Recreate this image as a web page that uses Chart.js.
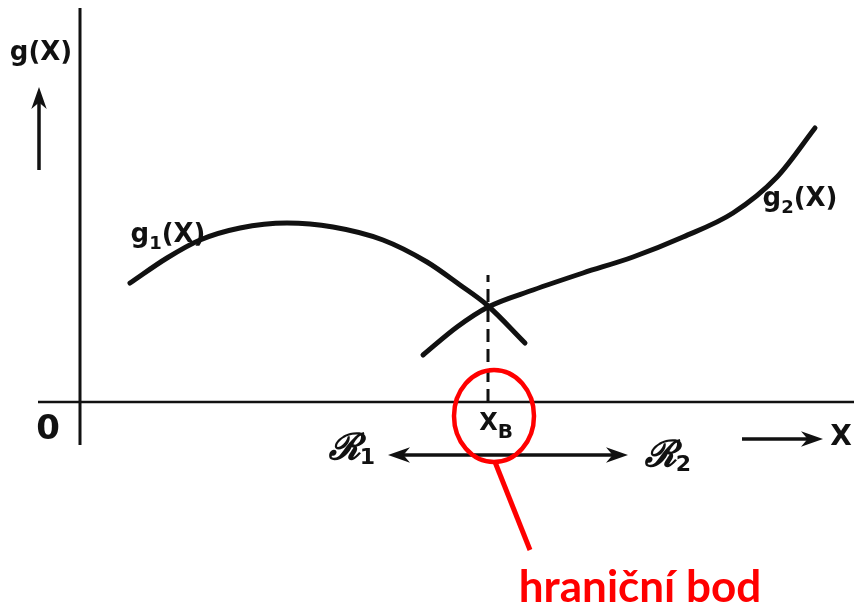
<!DOCTYPE html>
<html>
<head>
<meta charset="utf-8">
<script src="https://cdn.jsdelivr.net/npm/chart.js@4"></script>
<style>
  html, body { margin: 0; padding: 0; background: #fff; }
  canvas { display: block; }
</style>
</head>
<body>
<canvas id="chart" width="854" height="607"></canvas>
<script>
// curve g1(X) - decision function of class 1
const g1X = [0.50, 0.87, 1.20, 1.60, 2.07, 2.53, 3.03, 3.47, 3.80, 4.07, 4.45];
const g1Y = [1.19, 1.44, 1.62, 1.74, 1.79, 1.75, 1.62, 1.40, 1.17, 0.97, 0.59];
// curve g2(X) - decision function of class 2
const g2X = [3.43, 3.77, 4.08, 4.53, 5.03, 5.53, 6.03, 6.53, 6.97, 7.35];
const g2Y = [0.47, 0.75, 0.95, 1.12, 1.29, 1.45, 1.65, 1.89, 2.25, 2.74];
// boundary point x_B and the height where the curves meet
const boundaryX = [4.08, 4.08];
const boundaryY = [0, 1.27];

const ink = '#111';
const red = '#ff0000';

function pts(xs, ys) {
    return xs.map((v, i) => ({ x: v, y: ys[i] }));
}

function arrow(ctx, x1, y1, x2, y2, w, head) {
    const a = Math.atan2(y2 - y1, x2 - x1);
    ctx.lineWidth = w;
    ctx.beginPath();
    ctx.moveTo(x1, y1);
    ctx.lineTo(x2 - Math.cos(a) * head * 0.6, y2 - Math.sin(a) * head * 0.6);
    ctx.stroke();
    ctx.beginPath();
    ctx.moveTo(x2, y2);
    ctx.lineTo(x2 - head * Math.cos(a) + head * 0.35 * Math.sin(a), y2 - head * Math.sin(a) - head * 0.35 * Math.cos(a));
    ctx.lineTo(x2 - head * 0.7 * Math.cos(a), y2 - head * 0.7 * Math.sin(a));
    ctx.lineTo(x2 - head * Math.cos(a) - head * 0.35 * Math.sin(a), y2 - head * Math.sin(a) + head * 0.35 * Math.cos(a));
    ctx.closePath();
    ctx.fill();
}

// text with a subscript part, centred on (cx, cy)
function subText(ctx, base, sub, rest, cx, cy, size, subScale) {
    const f1 = 'bold ' + size + 'px "DejaVu Sans"';
    const f2 = 'bold ' + Math.round(size * subScale) + 'px "DejaVu Sans"';
    ctx.font = f1; const w1 = ctx.measureText(base).width; const w3 = ctx.measureText(rest).width;
    ctx.font = f2; const w2 = ctx.measureText(sub).width;
    const x0 = cx - (w1 + w2 + w3) / 2;
    ctx.textAlign = 'left'; ctx.textBaseline = 'middle';
    ctx.font = f1; ctx.fillText(base, x0, cy);
    ctx.font = f2; ctx.fillText(sub, x0 + w1, cy + size * 0.35);
    ctx.font = f1; ctx.fillText(rest, x0 + w1 + w2, cy);
}

function scriptR(ctx, sub, cx, cy) {
    ctx.textAlign = 'left'; ctx.textBaseline = 'middle';
    ctx.font = 'italic 36px "DejaVu Serif"';
    const w = ctx.measureText('ℛ').width;
    ctx.font = 'bold 22px "DejaVu Sans"';
    const w2 = ctx.measureText(sub).width;
    const x0 = cx - (w + w2) / 2;
    ctx.font = 'italic 36px "DejaVu Serif"';
    ctx.lineWidth = 1.6;
    ctx.fillText('ℛ', x0, cy);
    ctx.strokeText('ℛ', x0, cy);
    ctx.font = 'bold 22px "DejaVu Sans"';
    ctx.fillText(sub, x0 + w, cy + 8);
}

const decor = {
    id: 'decor',
    beforeDatasetsDraw(chart) {
        const { ctx, scales: { x, y } } = chart;
        const X = v => x.getPixelForValue(v), Y = v => y.getPixelForValue(v);
        ctx.save();
        ctx.strokeStyle = ink;
        // axes
        ctx.lineWidth = 3;
        ctx.beginPath(); ctx.moveTo(X(0), Y(3.94)); ctx.lineTo(X(0), Y(-0.43)); ctx.stroke();
        ctx.lineWidth = 2.5;
        ctx.beginPath(); ctx.moveTo(X(-0.42), Y(0)); ctx.lineTo(X(7.74), Y(0)); ctx.stroke();
        ctx.restore();
    },
    afterDatasetsDraw(chart) {
        const { ctx, scales: { x, y } } = chart;
        const X = v => x.getPixelForValue(v), Y = v => y.getPixelForValue(v);
        ctx.save();
        ctx.strokeStyle = ink; ctx.fillStyle = ink;
        // arrows
        arrow(ctx, X(-0.41), Y(2.32), X(-0.41), Y(3.15), 3.5, 22);
        arrow(ctx, X(6.62), Y(-0.37), X(7.43), Y(-0.37), 3.5, 22);
        arrow(ctx, X(4.0), Y(-0.53), X(3.08), Y(-0.53), 3.5, 22);
        arrow(ctx, X(4.0), Y(-0.53), X(5.48), Y(-0.53), 3.5, 22);
        // labels
        ctx.textAlign = 'center'; ctx.textBaseline = 'middle';
        ctx.font = 'bold 26px "DejaVu Sans"';
        ctx.fillText('g(X)', X(-0.39), Y(3.49));
        ctx.font = 'bold 28px "DejaVu Sans"';
        ctx.fillText('X', X(7.61), Y(-0.36));
        ctx.font = 'bold 34px "DejaVu Sans"';
        ctx.fillText('0', X(-0.32), Y(-0.28));
        subText(ctx, 'g', '1', '(X)', X(0.88), Y(1.67), 26, 0.7);
        subText(ctx, 'g', '2', '(X)', X(7.2), Y(2.03), 26, 0.7);
        subText(ctx, 'X', 'B', '', X(4.16), Y(-0.22), 24, 0.85);
        scriptR(ctx, '1', X(2.72), Y(-0.48));
        scriptR(ctx, '2', X(5.88), Y(-0.55));
        // red marker
        ctx.strokeStyle = red; ctx.fillStyle = red; ctx.lineWidth = 4.5;
        ctx.beginPath();
        ctx.ellipse(X(4.14), Y(-0.14), 40, 46, 0, 0, Math.PI * 2);
        ctx.stroke();
        ctx.lineWidth = 5;
        ctx.beginPath(); ctx.moveTo(X(4.15), Y(-0.6)); ctx.lineTo(X(4.5), Y(-1.48)); ctx.stroke();
        ctx.font = 'bold 44px Lato';
        ctx.textAlign = 'center'; ctx.textBaseline = 'alphabetic';
        ctx.fillText('hraniční bod', X(5.6), Y(-2.0));
        ctx.restore();
    }
};

new Chart(document.getElementById('chart'), {
    type: 'line',
    data: {
        datasets: [
            { data: pts(g1X, g1Y), borderColor: ink, borderWidth: 5, pointRadius: 0, cubicInterpolationMode: 'monotone', borderCapStyle: 'round' },
            { data: pts(g2X, g2Y), borderColor: ink, borderWidth: 5, pointRadius: 0, cubicInterpolationMode: 'monotone', borderCapStyle: 'round' },
            { data: pts(boundaryX, boundaryY), borderColor: ink, borderWidth: 3, pointRadius: 0, borderDash: [13, 7] }
        ]
    },
    options: {
        responsive: false,
        animation: false,
        devicePixelRatio: 1,
        layout: { padding: 0 },
        scales: {
            x: { type: 'linear', min: -0.8, max: 7.74, display: false },
            y: { type: 'linear', min: -2.05, max: 4.02, display: false }
        },
        plugins: {
            legend: { display: false },
            tooltip: { enabled: false }
        }
    },
    plugins: [decor]
});
</script>
</body>
</html>
